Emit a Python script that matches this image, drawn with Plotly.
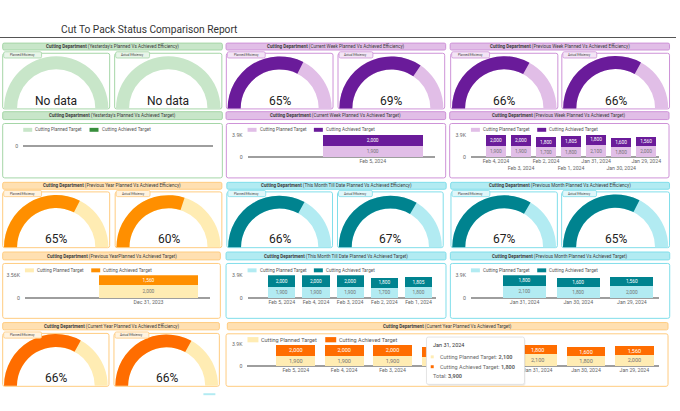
import plotly.graph_objects as go

W, H = 680, 411
FONT = "Roboto"

# ---------------- data ----------------
TITLE = "Cut To Pack Status Comparison Report"
DEPT = "Cutting Department"
PLANNED = "Cutting Planned Target"
ACHIEVED = "Cutting Achieved Target"
GAUGE_LABELS = ["Planned Efficiency", "Actual Efficiency"]

# efficiencies (planned, actual); None = no data
yesterday_eff = [None, None]
cur_week_eff = [65, 69]
prev_week_eff = [66, 66]
prev_year_eff = [65, 60]
month_td_eff = [66, 67]
prev_month_eff = [67, 65]
cur_year_eff = [66, 66]

yesterday_dates = []
yesterday_planned = []
yesterday_achieved = []

cur_week_dates = ["Feb 5, 2024"]
cur_week_planned = [1900]
cur_week_achieved = [2000]

prev_week_dates = ["Feb 4, 2024", "Feb 3, 2024", "Feb 2, 2024", "Feb 1, 2024",
                   "Jan 31, 2024", "Jan 30, 2024", "Jan 29, 2024"]
prev_week_planned = [1900, 1900, 1700, 1800, 2100, 1800, 2000]
prev_week_achieved = [2000, 2000, 1800, 1805, 1800, 1600, 1560]

prev_year_dates = ["Dec 31, 2023"]
prev_year_planned = [2000]
prev_year_achieved = [1560]

month_td_dates = ["Feb 5, 2024", "Feb 4, 2024", "Feb 3, 2024", "Feb 2, 2024", "Feb 1, 2024"]
month_td_planned = [1900, 1900, 1900, 1700, 1800]
month_td_achieved = [2000, 2000, 2000, 1800, 1805]

prev_month_dates = ["Jan 31, 2024", "Jan 30, 2024", "Jan 29, 2024"]
prev_month_planned = [2100, 1800, 2000]
prev_month_achieved = [1800, 1600, 1560]

cur_year_dates = ["Feb 5, 2024", "Feb 4, 2024", "Feb 3, 2024", "Feb 2, 2024", "Feb 1, 2024",
                  "Jan 31, 2024", "Jan 30, 2024", "Jan 29, 2024"]
cur_year_planned = [1900, 1900, 1900, 1700, 1800, 2100, 1800, 2000]
cur_year_achieved = [2000, 2000, 2000, 1800, 1805, 1800, 1600, 1560]
tooltip_date = "Jan 31, 2024"

# ---------------- styles ----------------
GREEN = dict(dark="#388e3c", light="#c8e6c9", border="#a5d6a7", head="#c8e6c9", tab="#e8f5e9")
PURPLE = dict(dark="#6a1b9a", light="#e1bee7", border="#ce93d8", head="#e1bee7", tab="#f3e5f5")
AMBER = dict(dark="#ff8f00", light="#ffecb3", border="#ffcc80", head="#ffe0b2", tab="#fff3e0")
TEAL = dict(dark="#00838f", light="#b2ebf2", border="#80deea", head="#b2ebf2", tab="#e0f7fa")
DEEP = dict(dark="#ff6d00", light="#ffecb3", border="#ffcc80", head="#ffe0b2", tab="#fff3e0")


def X(px):
    return px / W


def Y(py):
    return 1 - py / H


shapes, annotations, traces = [], [], []
axes = {}


def rrect(x0, y0, x1, y1, r=2):
    return (f"M{X(x0 + r)},{Y(y0)} L{X(x1 - r)},{Y(y0)} Q{X(x1)},{Y(y0)} {X(x1)},{Y(y0 + r)} "
            f"L{X(x1)},{Y(y1 - r)} Q{X(x1)},{Y(y1)} {X(x1 - r)},{Y(y1)} "
            f"L{X(x0 + r)},{Y(y1)} Q{X(x0)},{Y(y1)} {X(x0)},{Y(y1 - r)} "
            f"L{X(x0)},{Y(y0 + r)} Q{X(x0)},{Y(y0)} {X(x0 + r)},{Y(y0)} Z")


def add_box(x0, y0, x1, y1, fill, line, r=2, layer="below", lw=1):
    shapes.append(dict(type="path", path=rrect(x0, y0, x1, y1, r), xref="paper", yref="paper",
                       fillcolor=fill, line=dict(color=line, width=lw), layer=layer))


def add_rect(x0, y0, x1, y1, fill, layer="above"):
    shapes.append(dict(type="rect", xref="paper", yref="paper", x0=X(x0), x1=X(x1), y0=Y(y1), y1=Y(y0),
                       fillcolor=fill, line=dict(width=0), layer=layer))


def add_text(x, y, text, size, color="#333333", xanchor="center", yanchor="middle"):
    annotations.append(dict(x=X(x), y=Y(y), xref="paper", yref="paper", text=text, showarrow=False,
                            xanchor=xanchor, yanchor=yanchor, font=dict(size=size, color=color, family=FONT),
                            borderpad=0))


def header(x0, x1, y0, y1, th, suffix):
    add_box(x0, y0, x1, y1, th["head"], th["border"], r=1.5)
    add_text((x0 + x1) / 2, (y0 + y1) / 2 + 0.2, f"<b>{DEPT}</b> ({suffix})", 4.6, "#3a3a3a")


def gauge(x0, x1, y0, y1, th, value, label, tabw):
    add_box(x0, y0, x1, y1, "#ffffff", th["border"])
    r = (x1 - x0 - 1.4) / 2
    cx = (x0 + x1) / 2
    bot = y1 - 0.5
    traces.append(go.Indicator(
        mode="gauge", value=value if value is not None else 0,
        domain=dict(x=[X(cx - r), X(cx + r)], y=[Y(bot), Y(bot - r)]),
        gauge=dict(shape="angular", axis=dict(range=[0, 100], visible=False),
                   bar=dict(color=th["dark"], thickness=1), bgcolor=th["light"], borderwidth=0)))
    add_text(cx, bot - 8, "No data" if value is None else f"{value}%", 12, "#212121")
    add_box(x0 + 1, y0 - 1.5, x0 + 1 + tabw, y0 + 4.8, th["tab"], th["border"], r=1.5, layer="above", lw=0.8)
    add_text(x0 + 1 + tabw / 2, y0 + 1.7, label, 3, "#444444")


def fmt_k(v):
    return f"{v / 1000:g}K"


def chart(k, box, plot, th, dates, planned, achieved, big=False, stagger=False):
    bx0, by0, bx1, by1 = box
    add_box(bx0, by0, bx1, by1, "#ffffff", th["border"])
    px0, py0, px1, py1 = plot
    xa, ya = ("x", "y") if k == 1 else (f"x{k}", f"y{k}")
    lx, ly = ("xaxis", "yaxis") if k == 1 else (f"xaxis{k}", f"yaxis{k}")
    lbl = 5.5 if big else 4.8
    tickf = dict(size=5.2, color="#666666", family=FONT)
    n = len(dates)
    if n:
        top = max(p + a for p, a in zip(planned, achieved))
        for vals, col, tcol in ((planned, th["light"], "#757575"), (achieved, th["dark"], "#ffffff")):
            traces.append(go.Bar(x=dates, y=vals, marker=dict(color=col, line=dict(width=0)),
                                 texttemplate="%{y:,}", textposition="inside", insidetextanchor="middle",
                                 textangle=0, constraintext="none",
                                 textfont=dict(size=lbl, color=tcol, family=FONT),
                                 xaxis=xa, yaxis=ya, showlegend=False, hoverinfo="skip"))
        ticktext = [("<br>" + d) if (stagger and i % 2) else d for i, d in enumerate(dates)]
        axes[lx] = dict(domain=[X(px0), X(px1)], anchor=ya, type="category", range=[-1, n - 0.5],
                        categoryorder="array", categoryarray=dates, tickvals=dates, ticktext=ticktext,
                        tickfont=tickf, tickangle=0, showgrid=False, zeroline=False, showline=False,
                        ticks="", fixedrange=True)
        axes[ly] = dict(domain=[Y(py1), Y(py0)], anchor=xa, range=[0, top], tickvals=[0, top],
                        ticktext=["0", fmt_k(top)], tickfont=tickf, showgrid=True, gridcolor="#e6e6e6",
                        gridwidth=1, zeroline=True, zerolinecolor="#9e9e9e", zerolinewidth=1.5,
                        showline=False, ticks="", ticklabelstandoff=4, fixedrange=True)
    else:
        traces.append(go.Scatter(x=[0.5], y=[0], mode="markers", marker=dict(opacity=0),
                                 xaxis=xa, yaxis=ya, showlegend=False, hoverinfo="skip"))
        axes[lx] = dict(domain=[X(px0), X(px1)], anchor=ya, range=[0, 1], showticklabels=False,
                        showgrid=False, zeroline=False, showline=False, ticks="", fixedrange=True)
        axes[ly] = dict(domain=[Y(py1), Y(py0)], anchor=xa, range=[-1, 1], tickvals=[-1, 0, 1],
                        ticktext=["", "0", ""], tickfont=tickf, showgrid=True, gridcolor="#e6e6e6",
                        zeroline=True, zerolinecolor="#9e9e9e", zerolinewidth=1.5, showline=False,
                        ticks="", ticklabelstandoff=4, fixedrange=True)
    # legend
    sw_w, sw_h, gap, fs = (11, 5.3, 78, 5.5) if big else (9, 4, 66.5, 4.6)
    ly_ = py0 - 5
    for i, (name, col) in enumerate(((PLANNED, th["light"]), (ACHIEVED, th["dark"]))):
        sx = px0 + i * gap
        add_rect(sx, ly_ - sw_h / 2, sx + sw_w, ly_ + sw_h / 2, col)
        add_text(sx + sw_w + 2, ly_, name, fs, "#555555", xanchor="left")


# ---------------- title ----------------
add_text(60, 27, TITLE, 10.2, "#333333", xanchor="left")
shapes.append(dict(type="line", xref="paper", yref="paper", x0=X(0), x1=X(678), y0=Y(35), y1=Y(35),
                   line=dict(color="#555555", width=1.2)))

# ---------------- row 1: gauges ----------------
header(2.7, 223, 40.7, 47.7, GREEN, "Yesterday's Planned Vs Achieved Efficiency")
gauge(2.7, 110, 51, 107.5, GREEN, yesterday_eff[0], GAUGE_LABELS[0], 38)
gauge(115, 222.5, 51, 107.5, GREEN, yesterday_eff[1], GAUGE_LABELS[1], 34)

header(226.7, 447, 40.7, 47.7, PURPLE, "Current Week Planned Vs Achieved Efficiency")
gauge(227, 334, 51, 107.5, PURPLE, cur_week_eff[0], GAUGE_LABELS[0], 38)
gauge(339, 446, 51, 107.5, PURPLE, cur_week_eff[1], GAUGE_LABELS[1], 34)

header(451.5, 671.5, 40.7, 47.7, PURPLE, "Previous Week Planned Vs Achieved Efficiency")
gauge(452, 559.5, 51, 107.5, PURPLE, prev_week_eff[0], GAUGE_LABELS[0], 38)
gauge(563.5, 671.5, 51, 107.5, PURPLE, prev_week_eff[1], GAUGE_LABELS[1], 34)

# ---------------- row 2: targets ----------------
header(2.7, 223, 110.3, 118.3, GREEN, "Yesterday's Planned Vs Achieved Target")
chart(1, (2.7, 122.3, 223, 177.5), (23.3, 133.7, 213.3, 156.5), GREEN,
      yesterday_dates, yesterday_planned, yesterday_achieved)

header(226.7, 447, 110.3, 118.3, PURPLE, "Current Week Planned Vs Achieved Target")
chart(2, (227, 122.3, 447, 177.5), (248.3, 133.7, 436.7, 156.5), PURPLE,
      cur_week_dates, cur_week_planned, cur_week_achieved)

header(451, 671, 110.3, 118.3, PURPLE, "Previous Week Planned Vs Achieved Target")
chart(3, (451, 122.3, 671, 177.5), (472.3, 133.7, 660.7, 156.5), PURPLE,
      prev_week_dates, prev_week_planned, prev_week_achieved, stagger=True)

# ---------------- row 3: gauges ----------------
header(2.7, 222.5, 182, 189, AMBER, "Previous Year Planned Vs Achieved Efficiency")
gauge(2.7, 110, 191.7, 248.3, AMBER, prev_year_eff[0], GAUGE_LABELS[0], 38)
gauge(115.5, 222.5, 191.7, 248.3, AMBER, prev_year_eff[1], GAUGE_LABELS[1], 34)

header(227.5, 447.5, 182, 189, TEAL, "This Month Till Date Planned Vs Achieved Efficiency")
gauge(227.5, 333.5, 191.7, 248.3, TEAL, month_td_eff[0], GAUGE_LABELS[0], 38)
gauge(338.5, 444.5, 191.7, 248.3, TEAL, month_td_eff[1], GAUGE_LABELS[1], 34)

header(452, 671.5, 182, 189, TEAL, "Previous Month Planned Vs Achieved Efficiency")
gauge(452.3, 559, 191.7, 248.3, TEAL, prev_month_eff[0], GAUGE_LABELS[0], 38)
gauge(563.3, 671.5, 191.7, 248.3, TEAL, prev_month_eff[1], GAUGE_LABELS[1], 34)

# ---------------- row 4: targets ----------------
header(2.7, 221, 252.7, 260.7, AMBER, "Previous YearPlanned Vs Achieved Target")
chart(4, (2.7, 264.3, 221, 320), (25, 276.3, 211, 299.3), AMBER,
      prev_year_dates, prev_year_planned, prev_year_achieved)

header(226.7, 447.3, 252.7, 260.7, TEAL, "This Month Till Date Planned Vs Achieved Target")
chart(5, (226.7, 264.3, 447.3, 320), (248.3, 276.3, 437, 299.3), TEAL,
      month_td_dates, month_td_planned, month_td_achieved)

header(451.7, 671.7, 252.7, 260.7, TEAL, "Previous Month Planned Vs Achieved Target")
chart(6, (451.7, 264.3, 671.7, 320), (472.3, 276.3, 660.7, 299.3), TEAL,
      prev_month_dates, prev_month_planned, prev_month_achieved)

# ---------------- row 5 ----------------
header(2.7, 220, 324.3, 331.7, DEEP, "Current Year Planned Vs Achieved Efficiency")
gauge(2.7, 109.3, 335.3, 389, DEEP, cur_year_eff[0], GAUGE_LABELS[0], 38)
gauge(114.3, 220, 335.3, 389, DEEP, cur_year_eff[1], GAUGE_LABELS[1], 34)

header(228, 670, 324.3, 331.7, DEEP, "Current Year Planned Vs Achieved Target")
chart(7, (226.7, 335.7, 670, 389), (248.2, 346.7, 660.5, 368.3), DEEP,
      cur_year_dates, cur_year_planned, cur_year_achieved, big=True)

# tooltip
ti = cur_year_dates.index(tooltip_date)
tp, ta = cur_year_planned[ti], cur_year_achieved[ti]
add_box(428.7, 340.5, 527, 388.5, "rgba(0,0,0,0.07)", "rgba(0,0,0,0)", r=2, layer="above", lw=0)
add_box(427.7, 339, 526, 387, "#ffffff", "#dddddd", r=2, layer="above", lw=0.8)
add_text(433.3, 347, tooltip_date, 5.5, "#333333", xanchor="left")
add_rect(432, 357.6, 435, 360.6, DEEP["light"])
add_text(440.5, 359, f"{PLANNED}: <b>{tp:,}</b>", 5.5, "#666666", xanchor="left")
add_rect(432, 367.6, 435, 370.6, DEEP["dark"])
add_text(440.5, 369, f"{ACHIEVED}: <b>{ta:,}</b>", 5.5, "#666666", xanchor="left")
add_text(433.3, 379, f"Total: <b>{tp + ta:,}</b>", 5.5, "#666666", xanchor="left")

# faint partial element below
add_rect(204, 396, 216, 398, "#b2ebf2")

fig = go.Figure(data=traces)
fig.update_layout(width=W, height=H, margin=dict(l=0, r=0, t=0, b=0), autosize=False,
                  paper_bgcolor="#ffffff", plot_bgcolor="rgba(0,0,0,0)",
                  font=dict(family=FONT, color="#333333"), barmode="stack", bargap=0.2,
                  showlegend=False, hovermode=False, shapes=shapes, annotations=annotations, **axes)
fig.write_html("out.html")
